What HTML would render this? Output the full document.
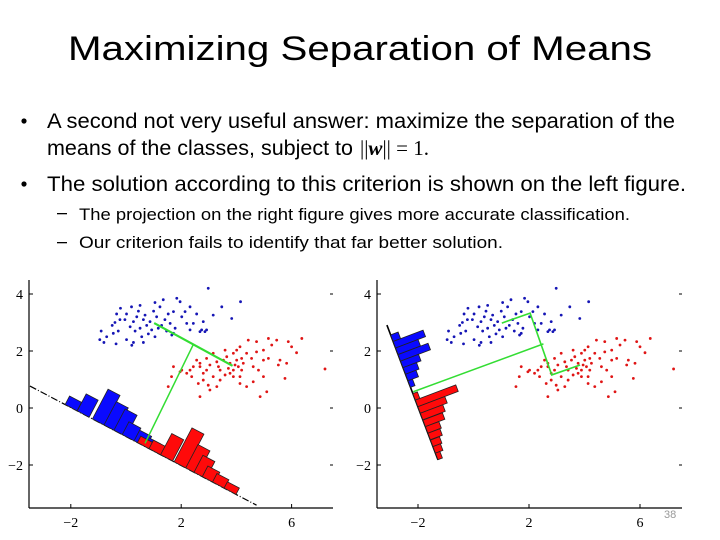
<!DOCTYPE html>
<html><head><meta charset="utf-8"><style>
html,body{margin:0;padding:0;background:#fff;}
svg{display:block;}
.t{font-family:"Liberation Sans",sans-serif;fill:#000;}
.ax{font-family:"Liberation Serif",serif;font-size:14px;fill:#000;}
</style></head><body>
<svg id="slide" width="720" height="540" viewBox="0 0 720 540" xmlns="http://www.w3.org/2000/svg">
<text class="t" x="68" y="60" font-size="34" textLength="584" lengthAdjust="spacingAndGlyphs">Maximizing Separation of Means</text>
<circle cx="24" cy="121" r="2.6" fill="#000"/>
<text class="t" x="47" y="128" font-size="21" textLength="628" lengthAdjust="spacingAndGlyphs">A second not very useful answer: maximize the separation of the</text>
<text class="t" x="47" y="155" font-size="21" textLength="306" lengthAdjust="spacingAndGlyphs">means of the classes, subject to</text>
<text x="360" y="155" font-size="21" font-family="Liberation Serif,serif">||<tspan font-weight="bold" font-style="italic">w</tspan>|| = 1.</text>
<circle cx="24" cy="184" r="2.6" fill="#000"/>
<text class="t" x="47" y="191" font-size="21" textLength="639" lengthAdjust="spacingAndGlyphs">The solution according to this criterion is shown on the left figure.</text>
<rect x="57" y="213" width="10" height="1.3" fill="#000"/>
<text class="t" x="79" y="220" font-size="17" textLength="551" lengthAdjust="spacingAndGlyphs">The projection on the right figure gives more accurate classification.</text>
<rect x="57" y="242" width="10" height="1.3" fill="#000"/>
<text class="t" x="79" y="248" font-size="17" textLength="424" lengthAdjust="spacingAndGlyphs">Our criterion fails to identify that far better solution.</text>
<text x="664" y="518" font-family="Liberation Sans,sans-serif" font-size="11" fill="#999">38</text>
<g id="left"></g>
<g id="right"></g>
</svg>
<script>
const blueX=[-0.9,-0.95,-0.8,-0.5,-0.4,-0.34,-0.2,-0.28,-0.36,-0.04,0.02,0.15,0.2,0.27,0.33,0.39,0.45,0.51,0.51,0.63,0.69,0.75,0.81,0.57,0.27,0.02,1.0,1.05,1.11,1.17,1.23,1.35,1.41,1.47,1.53,1.6,1.66,1.72,1.78,1.84,1.96,2.02,2.14,2.2,2.32,2.44,2.56,2.68,2.8,2.92,3.16,3.47,3.83,4.15,2.98,-0.22,-0.46,-0.7,0.21,0.63,0.87,0.93,1.29,1.05,1.72,2.32,2.74,2.86];
const blueY=[2.7,2.4,2.3,2.9,3.0,3.3,3.5,2.7,2.25,3.1,3.3,2.85,3.55,3.03,2.7,3.2,3.4,3.6,2.8,3.1,3.26,2.9,2.6,2.5,2.3,2.4,3.4,3.7,3.2,2.8,3.55,3.8,3.1,2.7,3.3,2.97,2.56,3.38,2.8,3.85,3.73,3.2,3.38,2.97,3.55,2.97,3.3,2.68,3.03,2.74,3.26,3.55,3.14,3.73,4.2,3.1,2.62,2.5,2.2,2.3,3.03,2.74,2.9,2.5,2.62,2.74,2.74,2.68];
const redX=[4.43,4.73,5.16,5.46,5.88,6.37,6.0,6.18,5.28,4.98,4.73,4.55,4.37,4.13,4.01,3.89,3.65,3.59,4.19,4.25,4.07,3.89,3.77,3.89,4.13,4.37,4.61,4.98,4.8,4.98,5.16,5.58,5.82,5.52,5.76,7.21,4.86,5.1,4.13,3.29,3.04,2.68,3.16,3.41,3.29,3.04,2.92,2.8,2.68,2.56,2.44,2.32,2.2,2.02,1.72,1.65,1.53,2.62,2.8,2.98,3.41,3.59,3.71,3.35,3.53,3.77,2.68,2.38,1.96,2.92,3.16,3.95,4.19,4.61,4.01];
const redY=[2.38,2.33,2.44,2.38,2.33,2.44,2.15,1.94,2.21,2.03,1.97,1.74,1.92,2.15,2.03,1.92,1.8,2.03,1.74,1.57,1.45,1.33,1.22,1.1,1.1,0.75,0.92,1.1,1.33,1.68,1.74,1.68,1.57,1.51,1.04,1.37,0.4,0.57,0.86,0.75,0.63,0.4,1.1,1.33,1.62,1.51,1.33,1.22,1.57,1.68,1.45,1.33,1.22,1.33,1.45,1.1,0.75,0.86,0.98,0.8,0.98,1.16,1.39,1.45,1.68,1.57,1.45,1.1,1.27,1.74,1.92,1.51,1.33,1.45,1.68];
const blueMean=[1.02,2.98];
const redMean=[3.86,1.48];
const xTicks=[-2,2,6];
const yTicks=[-2,0,2,4];
const xTickLabels=["\u22122","2","6"];
const yTickLabels=["\u22122","0","2","4"];
const leftBlueBins=[-1.99,-1.55,-1.0,-0.58,-0.22,0.08,0.51,0.87,1.23];
const leftBlueCounts=[4,8,14,11,10,6,5,4,3];
const leftRedBins=[0.63,1.05,1.47,1.96,2.38,2.68,2.98,3.35,3.77];
const leftRedCounts=[3,4,10,16,11,8,5,4,3];
const rightBlueBins=[2.45,2.22,1.99,1.76,1.53,1.30,1.07,0.84];
const rightBlueCounts=[5,20,15,20,12,9,7,3];
const rightRedBins=[0.39,0.16,-0.07,-0.3,-0.54,-0.77,-1.0,-1.24,-1.47,-1.7];
const rightRedCounts=[3,27,18,15,13,9,8,6,5,3];
const leftLine=[[-3.48,0.77],[4.73,-3.41]];
const rightLine=[[-3.12,2.91],[-1.28,-1.82]];
const leftGreenFoot=[0.69,-1.24];
const rightGreenPath=[[1.02,2.98],[2.04,3.33],[2.82,1.16],[3.84,1.51]];
const rightMid=[2.52,2.25];
const rightFoot=[-2.17,0.57];

const NS="http://www.w3.org/2000/svg";
function mk(parent,tag,attrs){const e=document.createElementNS(NS,tag);for(const k in attrs)e.setAttribute(k,attrs[k]);parent.appendChild(e);return e;}

function plot(g,cfg){
  const sx=x=>cfg.x0+cfg.kx*x, sy=y=>cfg.y0-cfg.ky*y;
  let a=mk(g,'line',{x1:cfg.L,y1:cfg.T,x2:cfg.L,y2:cfg.B,stroke:'#000','stroke-width':1.2});
  
  
  a=mk(g,'line',{x1:cfg.L,y1:cfg.B,x2:cfg.R,y2:cfg.B,stroke:'#000','stroke-width':1.2});
  
  
  yTicks.forEach((v,i)=>{
    const y=sy(v);
    mk(g,'line',{x1:cfg.L,y1:y,x2:cfg.L+4,y2:y,stroke:'#000','stroke-width':1});
    mk(g,'line',{x1:cfg.R-3,y1:y,x2:cfg.R,y2:y,stroke:'#000','stroke-width':1});
    const t=mk(g,'text',{x:cfg.L-6,y:y+5,'text-anchor':'end',class:'ax'});
    t.textContent=yTickLabels[i];
    
    
  });
  xTicks.forEach((v,i)=>{
    const x=sx(v);
    mk(g,'line',{x1:x,y1:cfg.B,x2:x,y2:cfg.B-4,stroke:'#000','stroke-width':1});
    const t=mk(g,'text',{x:x,y:cfg.B+19,'text-anchor':'middle',class:'ax'});
    t.textContent=xTickLabels[i];
    
    
  });
  blueX.forEach((v,i)=>{const c=mk(g,'circle',{cx:sx(v),cy:sy(blueY[i]),r:1.4,fill:'#1515b5'});
    
    });
  redX.forEach((v,i)=>{const c=mk(g,'circle',{cx:sx(v),cy:sy(redY[i]),r:1.4,fill:'#e01515'});
    
    });
  const A=[sx(cfg.line[0][0]),sy(cfg.line[0][1])],Bp=[sx(cfg.line[1][0]),sy(cfg.line[1][1])];
  const pl=mk(g,'line',{x1:A[0],y1:A[1],x2:Bp[0],y2:Bp[1],stroke:'#000','stroke-width':cfg.lineW,'stroke-dasharray':cfg.dash});
  
  
  let ux=Bp[0]-A[0],uy=Bp[1]-A[1];const len=Math.hypot(ux,uy);ux/=len;uy/=len;
  let nx=uy,ny=-ux; if(cfg.normalRight?nx<0:ny>0){nx=-nx;ny=-ny;}
  function bars(bins,counts,color,name){
    bins.forEach((b,i)=>{
      let P;
      if(cfg.byY){const f=(b-cfg.line[0][1])/(cfg.line[1][1]-cfg.line[0][1]);P=[sx(cfg.line[0][0]+f*(cfg.line[1][0]-cfg.line[0][0])),sy(b)];}
      else{const f=(b-cfg.line[0][0])/(cfg.line[1][0]-cfg.line[0][0]);P=[sx(b),sy(cfg.line[0][1]+f*(cfg.line[1][1]-cfg.line[0][1]))];}
      const h=counts[i]*cfg.scale,w=cfg.bw/2;
      const pts=[[P[0]-ux*w,P[1]-uy*w],[P[0]+ux*w,P[1]+uy*w],[P[0]+ux*w+nx*h,P[1]+uy*w+ny*h],[P[0]-ux*w+nx*h,P[1]-uy*w+ny*h]];
      const r=mk(g,'polygon',{points:pts.map(p=>p.join(',')).join(' '),fill:color,stroke:'#222','stroke-width':0.8});
      
      
    });
  }
  bars(cfg.bb,cfg.bc,'#0a0aff','blue-histogram-bar');
  bars(cfg.rb,cfg.rc,'#ff0a0a','red-histogram-bar');
  cfg.green(sx,sy);
}

plot(document.getElementById('left'),{x0:126,kx:27.6,y0:408,ky:28.5,L:29,R:333,T:280,B:508,
  line:leftLine,lineW:1.2,dash:'7,2,1,2',bb:leftBlueBins,bc:leftBlueCounts,rb:leftRedBins,rc:leftRedCounts,scale:2.4,bw:13.5,byY:false,normalRight:false,
  green:(sx,sy)=>{const g=document.getElementById('left');
    const mid=[(blueMean[0]+redMean[0])/2,(blueMean[1]+redMean[1])/2];
    let l=mk(g,'line',{x1:sx(blueMean[0]),y1:sy(blueMean[1]),x2:sx(redMean[0]),y2:sy(redMean[1]),stroke:'#33dd33','stroke-width':2.2});
    
    
    l=mk(g,'line',{x1:sx(mid[0]),y1:sy(mid[1]),x2:sx(leftGreenFoot[0]),y2:sy(leftGreenFoot[1]),stroke:'#33dd33','stroke-width':1.5});
    
    }});

plot(document.getElementById('right'),{x0:473.5,kx:27.75,y0:408,ky:28.5,L:377,R:682,T:280,B:508,
  line:rightLine,lineW:1.6,dash:'none',bb:rightBlueBins,bc:rightBlueCounts,rb:rightRedBins,rc:rightRedCounts,scale:1.6,bw:7,byY:true,normalRight:true,
  green:(sx,sy)=>{const g=document.getElementById('right');
    let p=mk(g,'polyline',{points:rightGreenPath.map(q=>sx(q[0])+','+sy(q[1])).join(' '),fill:'none',stroke:'#33dd33','stroke-width':1.6});
    
    
    p=mk(g,'line',{x1:sx(rightMid[0]),y1:sy(rightMid[1]),x2:sx(rightFoot[0]),y2:sy(rightFoot[1]),stroke:'#33dd33','stroke-width':1.5});
    
    }});
</script>
</body></html>
